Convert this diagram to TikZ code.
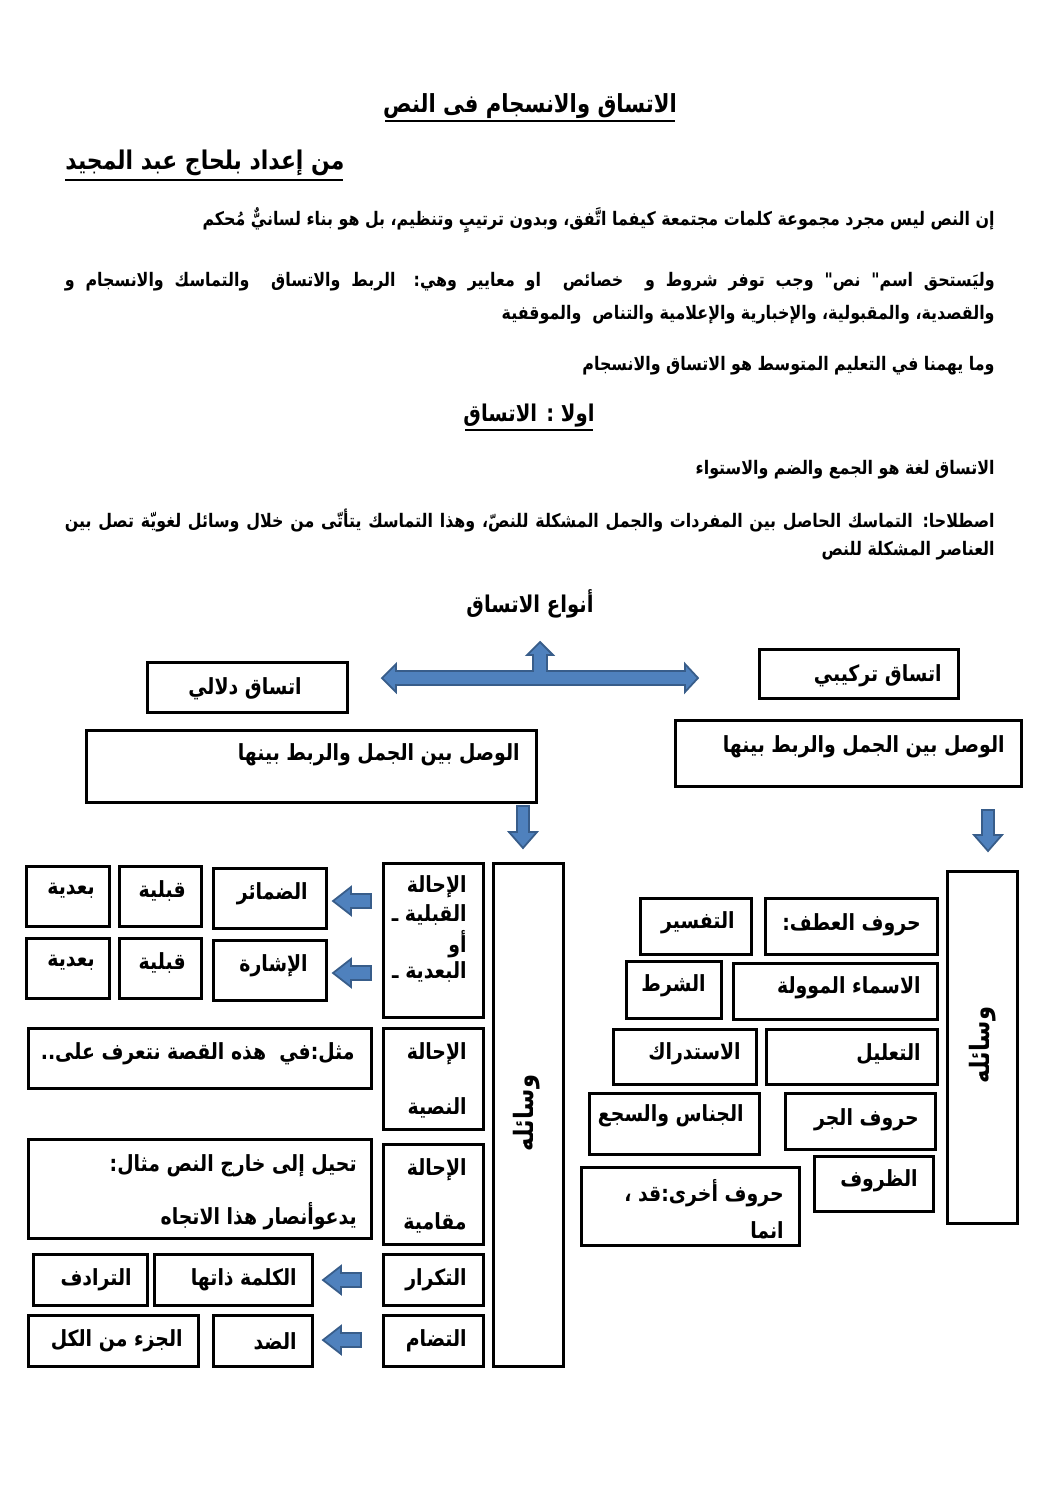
\documentclass[tikz,border=0pt]{standalone}
\usepackage{fontspec}
\newfontfamily\ar[Script=Arabic,FakeStretch=0.85]{DejaVu Sans}
\TeXXeTstate=1
\definecolor{arrfill}{RGB}{79,129,189}
\definecolor{arrdraw}{RGB}{56,93,138}
\tikzset{
  box/.style={draw=black, line width=1.6pt, inner sep=0pt, fill=white},
  txt/.style={inner sep=0pt, yshift=-1.8pt, font=\ar\bfseries\fontsize{12.5}{15}\selectfont},
  body/.style={inner sep=0pt, yshift=-1.2pt, font=\ar\bfseries\fontsize{10.5}{13}\selectfont},
  head/.style={inner sep=0pt, yshift=-1.5pt},
  barrow/.style={fill=arrfill, draw=arrdraw, line width=1pt, line join=miter},
  uline/.style={line width=1.4pt}
}
\newcommand\bx[5]{\node[box, anchor=north west, minimum width={(#4-#2)*0.5625pt}, minimum height={(#5-#3)*0.5625pt}] (#1) at (#2,#3) {};}
\newcommand\tx[4]{\node[txt, anchor=east] (#1) at (#2,#3) {#4};}
\newcommand\darr[3]{\draw[barrow] ({#1-6},#2) -- ({#1+6},#2) -- ({#1+6},{#3-16}) -- ({#1+14},{#3-16}) -- (#1,#3) -- ({#1-14},{#3-16}) -- ({#1-6},{#3-16}) -- cycle;}
\newcommand\larr[3]{\draw[barrow] (#1,#3) -- ({#1+18},{#3-14}) -- ({#1+18},{#3-7}) -- (#2,{#3-7}) -- (#2,{#3+7}) -- ({#1+18},{#3+7}) -- ({#1+18},{#3+14}) -- cycle;}
\begin{document}
\begin{tikzpicture}[x=0.5625pt,y=-0.5625pt]
\useasboundingbox[fill=white] (0,0) rectangle (1058,1497);
% titles
\node[head, font=\ar\bfseries\fontsize{14}{17}\selectfont] (title) at (530,103) {\beginR الاتساق والانسجام فى النص\endR};
\draw[uline] (385,121) -- (675,121);
\node[head, font=\ar\bfseries\fontsize{14.5}{18}\selectfont, anchor=west] (author) at (65,160) {\beginR من إعداد بلحاج عبد المجيد\endR};
\draw[uline] (65,180) -- (343,180);
% paragraphs
\node[body, anchor=east] (p1) at (995,218) {\beginR إن النص ليس مجرد مجموعة كلمات مجتمعة كيفما اتَّفق، وبدون ترتيبٍ وتنظيم، بل هو بناء لسانيٌّ مُحكم\endR};
\node[body, anchor=east] (p2a) at (995,280) {\hbox to 523pt{\beginR وليَستحق اسم" نص" وجب توفر شروط و\ \ خصائص\ \ او معايير وهي: الربط والاتساق\ \ والتماسك والانسجام و\endR}};
\node[body, anchor=east] (p2b) at (995,313) {\beginR والقصدية، والمقبولية، والإخبارية والإعلامية والتناص\ \ والموقفية\endR};
\node[body, anchor=east] (p3) at (995,364) {\beginR وما يهمنا في التعليم المتوسط هو الاتساق والانسجام\endR};
\node[head, font=\ar\bfseries\fontsize{13}{15}\selectfont] (h1) at (529,413) {\beginR اولا : الاتساق\endR};
\draw[uline] (465,430) -- (593,430);
\node[body, anchor=east] (p4) at (995,468) {\beginR الاتساق لغة هو الجمع والضم والاستواء\endR};
\node[body, anchor=east] (p5a) at (995,518) {\hbox to 523pt{\beginR اصطلاحا: التماسك الحاصل بين المفردات والجمل المشكلة للنصّ، وهذا التماسك يتأتّى من خلال وسائل لغويّة تصل بين\endR}};
\node[body, anchor=east] (p5b) at (995,549) {\beginR العناصر المشكلة للنص\endR};
\node[head, font=\ar\bfseries\fontsize{13}{15}\selectfont] (types) at (530,601) {\beginR أنواع الاتساق\endR};
% T double arrow
\draw[barrow] (382,678) -- (396,664) -- (396,671) -- (533,671) -- (533,655) -- (527,655) -- (540,642) -- (553,655) -- (547,655) -- (547,671) -- (685,671) -- (685,664) -- (698,678) -- (685,692) -- (685,685) -- (396,685) -- (396,692) -- cycle;
% top boxes
\bx{dal}{146}{661}{346}{711}
\node[txt] (daltx) at (245,686) {\beginR اتساق دلالي\endR};
\bx{tar}{758}{648}{957}{697}
\tx{tartx}{942}{673}{\beginR اتساق تركيبي\endR}
\bx{wl}{85}{729}{535}{801}
\tx{wltx}{520}{752}{\beginR الوصل بين الجمل والربط بينها\endR}
\bx{wr}{674}{719}{1020}{785}
\tx{wrtx}{1005}{744}{\beginR الوصل بين الجمل والربط بينها\endR}
\darr{523}{806}{848}
\darr{988}{810}{851}
% left side
\bx{wsl}{492}{862}{562}{1365}
\node[inner sep=0pt, rotate=90, font=\ar\bfseries\fontsize{15}{17}\selectfont] (wsltx) at (527,1113) {\beginR وسائله\endR};
\bx{ih1}{382}{862}{482}{1016}
\tx{ih1a}{467}{884}{\beginR الإحالة\endR}
\node[txt, anchor=east] (ih1b) at (467,912) {ـ \beginR القبلية\endR};
\tx{ih1c}{467}{941}{\beginR أو\endR}
\node[txt, anchor=east] (ih1d) at (467,969) {ـ \beginR البعدية\endR};
\bx{dam}{212}{867}{325}{927}
\tx{damtx}{308}{891}{\beginR الضمائر\endR}
\bx{ish}{212}{939}{325}{999}
\tx{ishtx}{308}{963}{\beginR الإشارة\endR}
\bx{qb1}{118}{865}{200}{925}
\tx{qb1tx}{186}{888}{\beginR قبلية\endR}
\bx{qb2}{118}{937}{200}{997}
\tx{qb2tx}{186}{960}{\beginR قبلية\endR}
\bx{bd1}{25}{865}{108}{925}
\tx{bd1tx}{95}{888}{\beginR بعدية\endR}
\bx{bd2}{25}{937}{108}{997}
\tx{bd2tx}{95}{960}{\beginR بعدية\endR}
\larr{333}{371}{901}
\larr{333}{371}{973}
\bx{ih2}{382}{1027}{482}{1128}
\tx{ih2a}{467}{1051}{\beginR الإحالة\endR}
\tx{ih2b}{467}{1105}{\beginR النصية\endR}
\bx{mth}{27}{1027}{370}{1087}
\tx{mthtx}{355}{1051}{\beginR مثل:في\ \ هذه القصة نتعرف على..\endR}
\bx{ih3}{382}{1143}{482}{1243}
\tx{ih3a}{467}{1167}{\beginR الإحالة\endR}
\tx{ih3b}{467}{1220}{\beginR مقامية\endR}
\bx{thl}{27}{1138}{370}{1237}
\tx{thla}{357}{1163}{\beginR تحيل إلى خارج النص مثال:\endR}
\tx{thlb}{357}{1213}{\beginR يدعوأنصار هذا الاتجاه\endR}
\bx{tkr}{382}{1253}{482}{1304}
\tx{tkrtx}{467}{1277}{\beginR التكرار\endR}
\bx{klm}{153}{1253}{311}{1304}
\tx{klmtx}{297}{1277}{\beginR الكلمة ذاتها\endR}
\bx{trd}{32}{1253}{146}{1304}
\tx{trdtx}{132}{1277}{\beginR الترادف\endR}
\larr{323}{361}{1280}
\bx{tdm}{382}{1314}{482}{1365}
\tx{tdmtx}{467}{1338}{\beginR التضام\endR}
\bx{dd}{212}{1314}{311}{1365}
\tx{ddtx}{297}{1338}{\beginR الضد\endR}
\bx{jz}{27}{1314}{197}{1365}
\tx{jztx}{183}{1338}{\beginR الجزء من الكل\endR}
\larr{323}{361}{1340}
% right side
\bx{wsr}{946}{870}{1016}{1222}
\node[inner sep=0pt, rotate=90, font=\ar\bfseries\fontsize{15}{17}\selectfont] (wsrtx) at (983,1045) {\beginR وسائله\endR};
\bx{tfs}{639}{897}{750}{953}
\tx{tfstx}{735}{920}{\beginR التفسير\endR}
\bx{atf}{764}{897}{936}{953}
\tx{atftx}{921}{922}{\beginR حروف العطف:\endR}
\bx{shr}{625}{960}{720}{1017}
\tx{shrtx}{706}{983}{\beginR الشرط\endR}
\bx{asm}{732}{962}{936}{1018}
\tx{asmtx}{921}{985}{\beginR الاسماء الموولة\endR}
\bx{std}{612}{1028}{755}{1083}
\tx{stdtx}{741}{1051}{\beginR الاستدراك\endR}
\bx{tll}{765}{1028}{936}{1083}
\tx{tlltx}{921}{1051}{\beginR التعليل\endR}
\bx{jns}{588}{1092}{758}{1153}
\tx{jnstx}{744}{1113}{\beginR الجناس والسجع\endR}
\bx{jar}{784}{1092}{934}{1148}
\tx{jartx}{919}{1117}{\beginR حروف الجر\endR}
\bx{zrf}{813}{1155}{932}{1210}
\tx{zrftx}{918}{1178}{\beginR الظروف\endR}
\bx{okh}{580}{1166}{798}{1244}
\tx{okha}{784}{1190}{\beginR حروف أخرى:قد ،\endR}
\tx{okhb}{784}{1227}{\beginR انما\endR}
\end{tikzpicture}
\end{document}
